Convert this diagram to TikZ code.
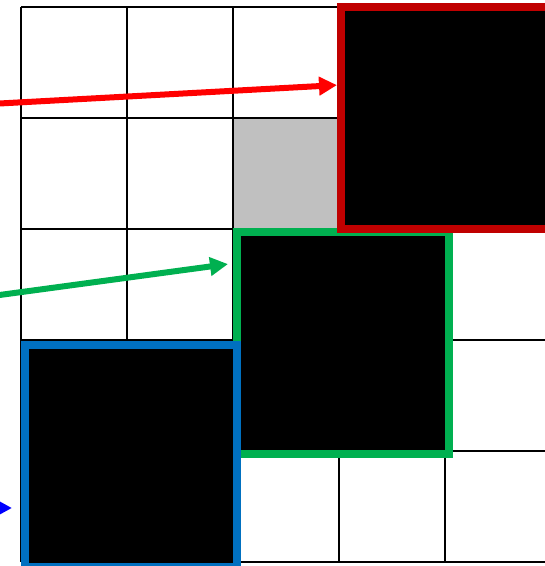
\documentclass[tikz,border=0pt]{standalone}
\usetikzlibrary{arrows.meta,calc}
\definecolor{boxred}{HTML}{C00000}
\definecolor{arrred}{HTML}{FF0000}
\definecolor{boxgreen}{HTML}{00B050}
\definecolor{boxblue}{HTML}{0070C0}
\definecolor{arrblue}{HTML}{0000FF}
\definecolor{cellgray}{HTML}{C0C0C0}
\begin{document}
\begin{tikzpicture}[x=1pt,y=-1pt,
  gridline/.style={line width=1.5pt,black},
  bigbox/.style={rectangle,fill=black,line width=8pt,minimum width=212pt,minimum height=222pt,inner sep=0pt},
  pointer/.style={line width=6pt,-{Triangle[length=18pt,width=18pt]}}]
\useasboundingbox (0,0) rectangle (545,566);
% gray cell
\fill[cellgray] (233,118) rectangle (339,229);
% grid
\foreach \yy in {7,118,229,340,451,562} \draw[gridline] (21,\yy) -- (551,\yy);
\foreach \xx in {21,127,233,339,445,551} \draw[gridline] (\xx,7) -- (\xx,562);
% boxes
\node[bigbox,draw=boxgreen] (greenbox) at (343,342.5) {};
\node[bigbox,draw=boxred] (redbox) at (447,118) {};
\node[bigbox,draw=boxblue] (bluebox) at (131,456) {};
% arrow ends
\coordinate (rs) at (-30,105.1);
\coordinate (rt) at ($(redbox.north west)!0.357!(redbox.south west)$);
\coordinate (gs) at (-30,299);
\coordinate (gt) at ($(greenbox.north west)!0.159!(greenbox.south west)+(-5,0)$);
\coordinate (bs) at (-60,508);
\coordinate (bt) at ($(bluebox.north west)!0.726!(bluebox.south west)+(-9,0)$);
% arrows
\draw[pointer,arrred] (rs) -- (rt);
\draw[pointer,boxgreen] (gs) -- (gt);
\draw[pointer,arrblue] (bs) -- (bt);
\end{tikzpicture}
\end{document}
